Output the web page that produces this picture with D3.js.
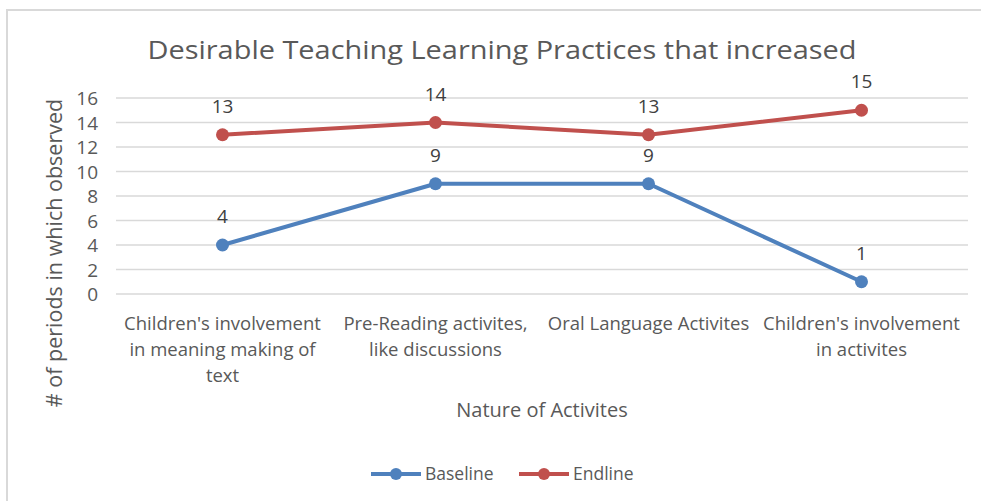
<!DOCTYPE html>
<html><head><meta charset="utf-8">
<script src="https://cdn.jsdelivr.net/npm/d3@7"></script>
<style>body{margin:0;background:#fff}svg{display:block}text{font-family:"Open Sans",sans-serif}</style>
</head><body><svg id="c" width="981" height="501"></svg>
<script>
const categories = [
  ["Children's involvement","in meaning making of","text"],
  ["Pre-Reading activites,","like discussions"],
  ["Oral Language Activites"],
  ["Children's involvement","in activites"]
];
const baseline = [4, 9, 9, 1];
const endline = [13, 14, 13, 15];
const yTicks = [0, 2, 4, 6, 8, 10, 12, 14, 16];
const seriesNames = ["Baseline", "Endline"];
const colors = ["#4F81BD", "#C0504D"];

const svg = d3.select("#c");
const F = "'Open Sans',sans-serif";
// frame
svg.append("path").attr("d","M7,501 V10 H981").attr("fill","none").attr("stroke","#d9d9d9").attr("stroke-width",2);

const x = d3.scaleBand().domain(d3.range(categories.length)).range([116, 968]);
const y = d3.scaleLinear().domain([0, 16]).range([294, 98]);
const cx = i => x(i) + x.bandwidth()/2;

// gridlines
svg.append("g").selectAll("line").data(yTicks).join("line")
  .attr("x1",116).attr("x2",968).attr("y1",d=>y(d)).attr("y2",d=>y(d))
  .attr("stroke","#d9d9d9").attr("stroke-width",1.5);

// y axis labels
const yAxis = d3.axisLeft(y).tickValues(yTicks).tickSize(0).tickPadding(0);
const yg = svg.append("g").attr("transform","translate(98,0)").call(yAxis);
yg.select(".domain").remove();
yg.selectAll("text").attr("fill","#595959").style("font-size","19px").style("font-family",F).attr("dy","0.35em");

// category labels
const cg = svg.append("g");
categories.forEach((lines,i)=>{
  const t = cg.append("text").attr("text-anchor","middle").attr("fill","#595959").style("font-size","18.5px")
    .attr("transform",`translate(${cx(i)},330)`);
  lines.forEach((l,j)=>t.append("tspan").attr("x",0).attr("y",j*26).text(l));
});

// title
svg.append("text").attr("x",502).attr("y",59).attr("text-anchor","middle").attr("fill","#595959")
  .style("font-size","26px").attr("textLength",709).attr("lengthAdjust","spacingAndGlyphs")
  .text("Desirable Teaching Learning Practices that increased");

// axis titles
svg.append("text").attr("x",542).attr("y",417).attr("text-anchor","middle").attr("fill","#595959")
  .style("font-size","20px").text("Nature of Activites");
svg.append("text").attr("transform","translate(62,253) rotate(-90)").attr("text-anchor","middle").attr("fill","#595959")
  .style("font-size","21.5px").text("# of periods in which observed");

// series
const line = d3.line().x((d,i)=>cx(i)).y(d=>y(d));
[baseline, endline].forEach((s,k)=>{
  const g = svg.append("g");
  g.append("path").datum(s).attr("d",line).attr("fill","none").attr("stroke",colors[k]).attr("stroke-width",4).attr("stroke-linejoin","round").attr("stroke-linecap","round");
  g.selectAll("circle").data(s).join("circle").attr("cx",(d,i)=>cx(i)).attr("cy",d=>y(d)).attr("r",6.5).attr("fill",colors[k]);
  g.selectAll("text").data(s).join("text").attr("x",(d,i)=>cx(i)).attr("y",d=>y(d)-22).attr("text-anchor","middle")
    .attr("fill","#404040").style("font-size","19px").text(d=>d);
});

// legend
const lx = [371, 519];
seriesNames.forEach((n,k)=>{
  const g = svg.append("g").attr("transform",`translate(${lx[k]},474)`);
  g.append("line").attr("x1",0).attr("x2",50).attr("stroke",colors[k]).attr("stroke-width",4);
  g.append("circle").attr("cx",25).attr("r",6).attr("fill",colors[k]);
  g.append("text").attr("x",54).attr("dy","0.35em").attr("fill","#595959").style("font-size","17.5px").text(n);
});
</script></body></html>
